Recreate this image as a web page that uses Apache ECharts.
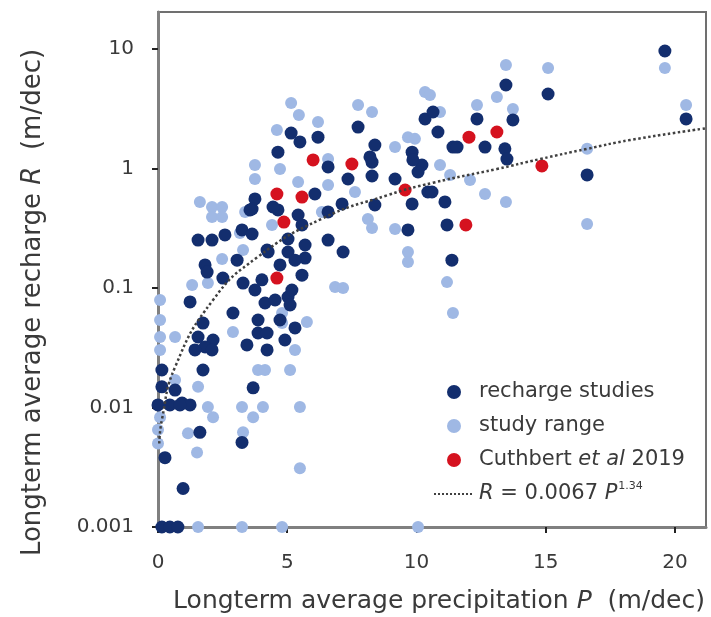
<!DOCTYPE html>
<html>
<head>
<meta charset="utf-8">
<script src="https://cdn.jsdelivr.net/npm/echarts@6/dist/echarts.min.js"></script>
<style>html,body{margin:0;padding:0;background:#fff}#c{width:711px;height:617px}</style>
</head>
<body>
<div id="c"></div>
<script>
// [precipitation P (m/dec), recharge R (m/dec)]
const rechargeStudies = [
[5.15,1.98],[5.49,1.67],[6.19,1.83],[7.74,2.22],[4.64,1.37],[8.39,1.57],[6.58,1.03],[8.28,1.13],[8.28,0.865],[7.35,0.817],
[3.75,0.556],[3.64,0.458],[4.64,0.45],[6.07,0.612],[7.12,0.505],[6.58,0.433],[8.39,0.495],[9.17,0.817],[9.83,1.37],[10.21,1.07],
[10.06,0.935],[10.33,2.6],[10.44,0.636],[9.83,0.505],[1.55,0.252],[2.09,0.252],[2.59,0.278],[3.25,0.306],[3.64,0.283],[5.42,0.408],
[5.57,0.337],[6.58,0.252],[7.16,0.2],[5.03,0.257],[5.03,0.2],[5.69,0.229],[5.69,0.178],[4.26,0.2],[1.82,0.156],[9.67,0.306],
[19.61,9.62],[13.46,5.0],[15.09,4.2],[20.43,2.6],[12.34,2.6],[13.73,2.55],[10.83,2.02],[11.41,1.51],[12.65,1.51],[13.42,1.46],
[13.5,1.2],[16.6,0.883],[10.6,0.636],[11.1,0.525],[11.18,0.337],[11.37,0.171],[10.64,2.97],[1.9,0.136],[2.51,0.121],[3.29,0.11],
[1.24,0.0764],[2.9,0.0618],[1.74,0.0509],[1.55,0.0389],[2.13,0.0367],[1.82,0.0321],[1.43,0.0303],[2.09,0.0303],[3.87,0.054],[3.87,0.042],
[4.14,0.0749],[5.3,0.0463],[3.44,0.0334],[1.74,0.0206],[0.15,0.0206],[0.15,0.0149],[0.66,0.014],[0.93,0.0109],[1.24,0.0105],[3.68,0.0146],
[1.62,0.0062],[3.25,0.0051],[0.27,0.0038],[0.97,0.0021],[3.75,0.0962],[4.02,0.117],[5.57,0.128],[5.03,0.0841],[0,0.0105],[0.46,0.0105],
[0.85,0.0105],[0.15,0.001],[0.46,0.001],[0.77,0.001],[4.45,0.476],[3.56,0.45],[4.22,0.208],[5.18,0.0962],[4.22,0.042],[4.22,0.0303],
[3.06,0.171],[11.57,1.51],[8.2,1.25],[9.86,1.18],[4.72,0.156],[5.11,0.0721],[4.72,0.054],[4.53,0.0794],[5.3,0.171],[4.91,0.0367]
];
const studyRange = [
[5.15,3.53],[5.45,2.8],[6.19,2.45],[4.6,2.1],[7.74,3.4],[8.28,2.97],[9.17,1.51],[9.67,1.83],[3.75,1.07],[3.75,0.817],
[4.72,0.99],[5.42,0.771],[6.58,1.2],[6.58,0.728],[1.62,0.525],[2.09,0.476],[2.48,0.476],[2.09,0.393],[2.48,0.393],[3.37,0.433],
[7.62,0.636],[8.28,0.318],[8.12,0.378],[9.17,0.312],[9.67,0.2],[9.67,0.165],[3.29,0.208],[2.48,0.175],[4.41,0.337],[6.34,0.433],
[10.33,4.37],[9.94,1.77],[13.46,7.35],[15.09,6.93],[19.61,6.93],[20.43,3.4],[13.11,3.96],[12.34,3.4],[10.91,2.97],[13.73,3.15],
[10.91,1.07],[11.3,0.883],[12.07,0.8],[12.65,0.612],[13.46,0.525],[16.6,1.46],[16.6,0.343],[10.52,4.12],[1.32,0.106],[1.93,0.11],
[6.85,0.102],[7.16,0.1],[2.9,0.0428],[0.66,0.0389],[4.8,0.0618],[4.8,0.0509],[5.76,0.0519],[5.3,0.0303],[3.87,0.0206],[4.14,0.0206],
[5.11,0.0206],[3.25,0.0101],[4.06,0.0101],[3.68,0.0083],[5.49,0.0101],[1.93,0.0101],[2.13,0.0083],[1.16,0.0061],[3.29,0.0062],[1.51,0.0042],
[5.49,0.0031],[0.08,0.0083],[0,0.0065],[0,0.005],[0.08,0.0389],[0.08,0.0303],[0.66,0.017],[1.55,0.0149],[1.55,0.001],[3.25,0.001],
[4.8,0.001],[10.06,0.001],[11.18,0.112],[11.41,0.0618],[3.17,0.288],[0.08,0.0794],[0.08,0.054]
];
const cuthbert2019 = [
[6.0,1.18],[7.5,1.09],[4.6,0.612],[5.57,0.577],[4.87,0.356],[9.56,0.661],[12.03,1.83],[13.11,2.02],[14.85,1.05],[11.91,0.337],[4.6,0.121]
];
// points
const fitCurve = [
[0.05,0.005],[0.15,0.0079],[0.66,0.0218],[2.13,0.0795],[3.83,0.18],[6.34,0.38],[8.9,0.6],[10.64,0.76],
[13.11,0.99],[14.78,1.2],[16.6,1.46],[18.26,1.73],[21.2,2.17]
];
const xTicks = [0,5,10,15,20];
const yTicks = [0.001,0.01,0.1,1,10];
const seriesNames = ['recharge studies','study range','Cuthbert et al 2019','R = 0.0067 P^1.34'];

const FONT = 'DejaVu Sans';
const chart = echarts.init(document.getElementById('c'), null, {renderer:'canvas'});
const legendRich = {
  n:{fontFamily:FONT,fontSize:21,color:'#3a3a3a',lineHeight:26},
  i:{fontFamily:FONT,fontSize:21,color:'#3a3a3a',fontStyle:'italic',lineHeight:26},
  sup:{fontFamily:FONT,fontSize:11,color:'#3a3a3a',verticalAlign:'top',lineHeight:26,padding:[0,0,12,1]}
};
chart.setOption({
  animation:false,
  backgroundColor:'#fff',
  grid:{left:158,right:5,top:12,bottom:90,show:true,borderColor:'#707070',borderWidth:2,outerBoundsMode:'none'},
  legend:{
    data:seriesNames,
    orient:'vertical',left:428,top:374,itemWidth:40,itemHeight:14,itemGap:8,
    textStyle:{fontFamily:FONT,fontSize:21,color:'#3a3a3a',lineHeight:26,rich:legendRich},
    formatter:function(name){
      if(name===seriesNames[2]) return '{n|Cuthbert }{i|et al}{n| 2019}';
      if(name===seriesNames[3]) return '{i|R}{n| = 0.0067 }{i|P}{sup|1.34}';
      return '{n|'+name+'}';
    }
  },
  xAxis:{
    type:'value',min:0,max:21.2,
    name:'Longterm average precipitation {i|P}  (m/dec)',
    nameLocation:'middle',nameGap:62,
    nameTextStyle:{fontFamily:FONT,fontSize:25,color:'#3a3a3a',padding:[0,0,0,14],
      rich:{i:{fontFamily:FONT,fontSize:25,color:'#3a3a3a',fontStyle:'italic'}}},
    axisLine:{show:true,onZero:false,lineStyle:{color:'#808080',width:3}},
    axisTick:{show:true,inside:false,length:6,lineStyle:{color:'#222',width:2},customValues:xTicks},
    axisLabel:{fontFamily:FONT,fontSize:20,color:'#3a3a3a',margin:26,customValues:xTicks},
    splitLine:{show:false}
  },
  yAxis:{
    type:'log',logBase:10,min:0.001,max:20.4,
    name:'Longterm average recharge {i|R}  (m/dec)',
    nameLocation:'middle',nameGap:112,nameRotate:90,
    nameTextStyle:{fontFamily:FONT,fontSize:26,color:'#3a3a3a',padding:[0,66,0,0],
      rich:{i:{fontFamily:FONT,fontSize:26,color:'#3a3a3a',fontStyle:'italic'}}},
    axisLine:{show:true,onZero:false,lineStyle:{color:'#808080',width:3}},
    axisTick:{show:true,inside:false,length:6,lineStyle:{color:'#222',width:2},customValues:yTicks},
    axisLabel:{fontFamily:FONT,fontSize:20,color:'#3a3a3a',margin:24,customValues:yTicks,
      formatter:function(v){return String(+v.toPrecision(3));}},
    splitLine:{show:false},minorTick:{show:false}
  },
  series:[
    {name:seriesNames[1],type:'scatter',data:studyRange,symbolSize:12,clip:false,z:2,
     itemStyle:{color:'#9fb8e4',opacity:1}},
    {name:seriesNames[0],type:'scatter',data:rechargeStudies,symbolSize:13,clip:false,z:3,
     itemStyle:{color:'#132e6e',opacity:1}},
    {name:seriesNames[2],type:'scatter',data:cuthbert2019,symbolSize:13,clip:false,z:4,
     itemStyle:{color:'#d5121f',opacity:1}},
    {name:seriesNames[3],type:'line',data:fitCurve,smooth:true,showSymbol:false,symbol:'none',z:5,
     lineStyle:{color:'#404040',width:2.5,type:'dotted'},itemStyle:{color:'rgba(0,0,0,0)'}}
  ]
});
</script>
</body>
</html>
